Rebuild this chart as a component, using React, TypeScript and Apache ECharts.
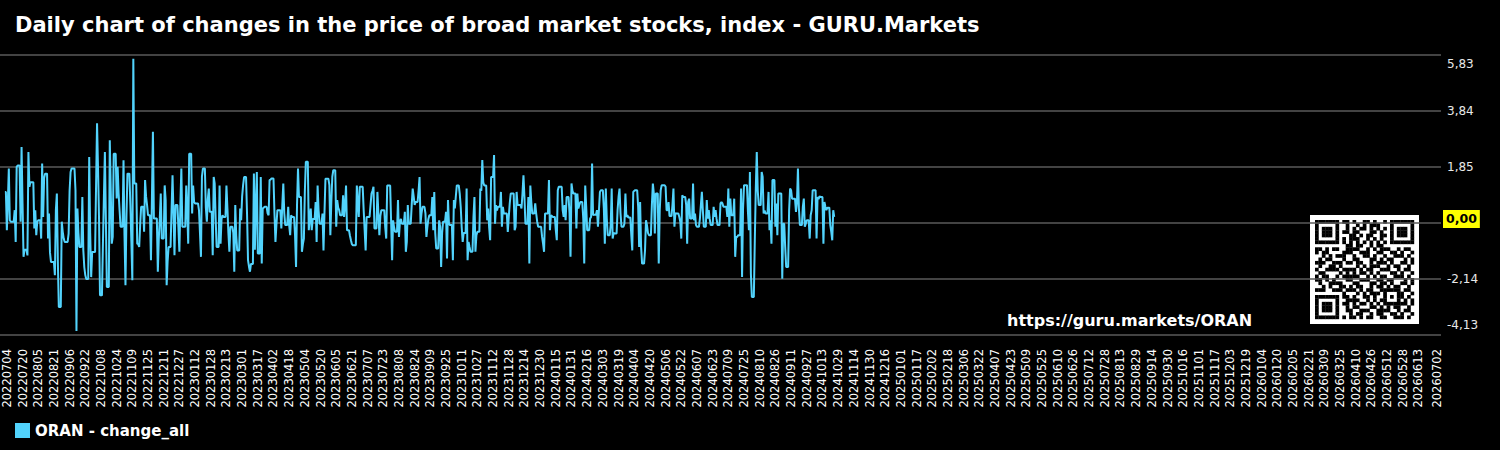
import React, { useEffect, useRef } from "react";
import * as echarts from "echarts";

// ---------- texts ----------
const TITLE = "Daily chart of changes in the price of broad market stocks, index - GURU.Markets";
const SERIES_NAME = "ORAN - change_all";
const URL_TEXT = "https://guru.markets/ORAN";
const ZERO_LABEL = "0,00";

// ---------- axes ----------
const Y_MIN = -4.13;
const Y_MAX = 5.83;
const Y_SPLITS = 5;
const AXIS_START = [2022, 6, 27]; // padding days before first label
const AXIS_END = [2026, 7, 6]; // padding days after last label
const FIRST_LABEL = "20220704";
const LAST_LABEL = "20260702";
const LABEL_STEP_DAYS = 16;

// ---------- data: daily change values on trading days (Mon..Fri), starting Fri 2022-07-01 ----------
const DATA_FIRST_WEEKDAY = [2022, 7, 1];

const changesPart1 = [
  0.96,
  -0.40, 0.60, 1.79, -0.05, -0.10,
  -0.10, 0.31, -0.82, 1.85, 1.90,
  -0.10, 2.56, 0.55, -1.35, -1.10,
  -1.30, 2.38, 1.14, 1.30, 1.30,
  -0.34, 0.31, -0.58, -0.10, -0.05,
  -0.70, 1.97, 0.07, 1.45, 1.61,
  -0.70, 0.19, -1.20, -1.53, -1.53,
  -2.00, 0.31, 0.90, -1.50, -3.13,
  -0.10, -0.46, -0.70, -0.82, -0.82,
  -0.52, 1.00, 1.67, 1.79, 1.79,
  1.02, -3.99, 0.37, -0.50, -1.00,
  0.78, -1.12, -1.72, -2.00, -2.14,
  2.20, -0.50, -2.07, -1.18, -1.18,
  1.20, 3.40, 1.80, 0.07, -2.72,
  -0.88, 0.80, 2.38, 0.00, -2.42,
  2.80, 1.00, -0.88, -0.64, 2.32,
  0.73, 1.85, 0.90, 0.30, -0.28,
  2.09, -0.58, -2.36, 0.07, 1.61,
  0.50, -0.80, -2.18, 5.70, 1.26,
  -0.88, -0.90, -1.00, -0.20, 0.43,
];

const changesPart2 = [
  -0.46, 1.38, 0.80, 0.50, 0.13,
  -1.47, 0.80, 3.10, 0.01, 0.01,
  -1.88, -0.70, 0.00, 0.90, -0.70,
  1.19, 0.67, -2.36, -1.50, -1.00,
  0.31, 1.55, 0.20, -1.29, 0.49,
  -0.30, -1.17, 0.50, 1.79, -0.28,
  -0.28, 1.19, 0.30, -0.88, 2.32,
  0.19, 1.19, 0.60, 0.55, 0.55,
  0.30, -0.50, -1.35, 1.50, 1.79,
  0.40, -0.10, 0.70, 1.08, 0.25,
  -1.29, 1.49, 1.26, 0.00, -1.00,
  1.19, -0.88, 0.00, 0.13, 0.07,
  1.19, 0.37, -0.50, -1.17, -0.28,
  -0.50, -1.88, 0.49, -0.60, -1.12,
  0.37, -0.05, 0.80, 1.20, 1.49,
  0.19, -1.47, -1.70, -1.88, -1.60,
  1.61, -1.10, 0.50, 1.67, -1.23,
  1.49, -1.59, 0.37, 0.40, 0.43,
  0.20, 0.13, 1.38, 1.40, 1.44,
  0.20, -0.82, -0.20, 0.31, 0.31,
];

const changesPart3 = [
  -0.34, 0.50, 1.26, 0.20, -0.22,
  0.43, -0.22, -0.58, 0.13, 0.07,
  -0.60, -1.71, 0.50, 1.79, 0.78,
  -1.17, -0.90, -0.70, 1.00, 2.03,
  -0.40, 0.00, 0.37, -0.40, 0.00,
  0.60, -0.82, 1.19, 0.30, -0.17,
  0.19, -1.12, 0.20, 1.43, 1.43,
  1.20, -0.58, 0.60, 1.50, 1.73,
  -0.28, 0.67, 0.40, 0.31, 0.13,
  0.84, 0.07, 0.50, 1.19, -0.40,
  -0.60, -0.76, -0.90, -0.94, -0.94,
  1.19, 0.60, 0.07, 1.14, 1.14,
  0.31, -0.40, -1.12, 0.07, 0.07,
  0.50, 0.90, 1.00, 1.14, -0.34,
  0.96, 0.20, -0.58, 0.10, 0.31,
  0.31, -0.30, -0.70, 1.19, 1.19,
  -0.10, -1.47, -0.05, -0.30, -0.46,
  0.67, -0.64, -0.10, 0.00, -0.17,
  0.25, -1.17, -0.82, 0.49, -0.17,
  0.50, 1.08, 0.80, 0.50, 0.60,
];

const changesPart4 = [
  1.00, 1.49, -0.17, 0.20, 0.43,
  0.20, -0.64, -0.28, 0.00, 0.13,
  0.78, -0.40, 0.96, -0.50, -1.05,
  -0.05, -0.28, -1.71, -0.50, -0.10,
  0.25, -1.41, 0.67, -0.17, -0.22,
  -1.47, 0.67, 0.37, 0.80, 1.19,
  0.90, 0.43, -0.30, -0.82, -0.50,
  1.08, -1.47, -0.82, -1.00, -1.17,
  0.07, 0.78, -1.17, -0.58, -0.46,
  1.08, 1.00, 2.09, 1.30, 1.19,
  -0.05, 0.37, -0.30, -0.76, 1.49,
  2.27, -0.17, 0.49, 0.30, 0.43,
  0.96, -0.28, 0.43, 0.19, 0.19,
  -0.46, 0.07, 0.55, 0.90, 0.90,
  -0.40, -0.28, 0.96, 0.49, 0.49,
  0.37, 0.90, 1.55, 0.78, -0.17,
  0.78, -1.59, 1.19, 0.60, 0.19,
  0.55, 0.19, -0.10, -0.28, -0.28,
  -0.64, -0.88, -1.17, 0.19, 0.19,
  1.38, -0.40, 0.13, 0.10, 0.07,
];

const changesPart5 = [
  -0.40, -0.76, 1.02, 1.14, 1.14,
  0.31, 0.07, 0.49, -0.05, 0.78,
  0.20, -1.35, 1.26, 1.00, 0.90,
  -0.34, 0.90, 0.37, 0.50, 0.60,
  0.01, -1.59, 1.19, 0.43, -0.40,
  0.01, 0.07, 1.97, 0.13, 0.15,
  0.31, -0.28, 0.31, 0.96, 1.02,
  0.37, -0.88, 1.08, 0.00, -0.58,
  -0.22, 1.08, -0.70, -0.50, -0.52,
  0.31, 0.78, 1.08, 0.20, -0.28,
  -0.17, 0.90, 0.07, 0.13, 0.05,
  -0.58, -1.12, 0.96, 1.00, 1.02,
  0.43, -1.00, 0.60, -1.00, -1.59,
  -1.12, -0.05, -0.22, -0.50, -0.58,
  0.50, 1.26, 0.90, -0.52, 0.90,
  -1.59, 0.30, 1.02, 1.20, 1.20,
  1.14, 0.31, 0.31, 0.60, 0.10,
  0.49, 1.08, -0.28, 0.20, 0.19,
  0.07, -0.10, -0.70, 0.84, 0.78,
  0.50, -0.88, 0.60, 0.72, 0.01,
];

const changesPart6 = [
  1.26, -0.05, 0.19, -0.22, -0.28,
  0.01, 0.50, 0.96, 0.30, -0.28,
  0.67, 0.01, 0.31, 0.00, -0.22,
  0.43, 0.07, 0.31, 0.00, -0.22,
  0.55, 0.60, 0.55, 0.43, 0.43,
  0.07, 1.08, -0.28, 0.72, 0.13,
  0.72, -1.35, -0.64, -0.64, -0.58,
  1.08, -2.07, 0.37, 1.20, 1.20,
  0.25, -0.40, 1.67, -1.95, -2.78,
  -0.76, 1.08, 2.38, 1.00, 0.49,
  1.67, 1.50, 0.19, 0.30, 0.19,
  0.96, -0.40, -0.05, -0.88, 1.38,
  -0.28, 0.55, -0.58, 0.90, 0.90,
  -2.13, -0.17, -0.17, -1.00, -1.71,
  0.31, 1.08, 1.02, 0.72, 0.72,
  0.25, 0.60, 1.79, 0.37, -0.22,
  0.43, 0.72, -0.28, -0.17, -0.05,
  -0.70, 0.13, 0.31, 1.02, 1.02,
  -0.70, 0.78, 0.70, 0.80, 0.78,
  -0.88, 0.60, 0.43, 0.31, 0.40,
  -0.22, -0.46, -0.76, 0.31, 0.07,
];

// ---------- QR code decoration (module bits) ----------
const QR_ROWS_SRC = [
  "AB a", "CD b", "EF c", "GH d", "BC e", "DE f", "FG a", "HA b", "CE c", "AG d",
  "DB e", "FH f", "EA a", "BD b", "GC c", "HF d", "AE e", "CG f", "BH a", "DA b",
  "EC c", "FD d", "GB e", "HE f", "AF a", "CH b", "EG c", "BA d", "DC e",
];
const QR_BLOCKS: Record<string, string> = {
  A: "1011001011", B: "0100110100", C: "1101011001", D: "0010101110",
  E: "1110010101", F: "0101101010", G: "1001110011", H: "0110001101",
  a: "101001101", b: "010110010", c: "110010110", d: "001101001",
  e: "100111010", f: "011000101",
};

function pad2(n: number) {
  return n < 10 ? "0" + n : "" + n;
}
function fmtDate(d: Date) {
  return `${d.getUTCFullYear()}${pad2(d.getUTCMonth() + 1)}${pad2(d.getUTCDate())}`;
}
function utc(p: number[]) {
  return new Date(Date.UTC(p[0], p[1] - 1, p[2]));
}

function buildCategories(): string[] {
  const out: string[] = [];
  const end = utc(AXIS_END).getTime();
  for (let t = utc(AXIS_START).getTime(); t <= end; t += 86400000) out.push(fmtDate(new Date(t)));
  return out;
}

function buildDailyMap(): Map<string, number> {
  const values = [
    ...changesPart1, ...changesPart2, ...changesPart3,
    ...changesPart4, ...changesPart5, ...changesPart6,
  ];
  const map = new Map<string, number>();
  let idx = 1;
  let last = values[0];
  // calendar points from the day after the first weekday; weekends keep the last trading value
  for (let t = utc(DATA_FIRST_WEEKDAY).getTime() + 86400000; idx < values.length; t += 86400000) {
    const d = new Date(t);
    const wd = d.getUTCDay();
    if (wd !== 0 && wd !== 6) {
      last = values[idx++];
    }
    map.set(fmtDate(d), last);
  }
  return map;
}

function buildQr(): any[] {
  const n = 29;
  const m: boolean[][] = QR_ROWS_SRC.map((src) => {
    const [p, q] = src.split(" ");
    const s = QR_BLOCKS[p[0]] + QR_BLOCKS[p[1]] + QR_BLOCKS[q];
    return s.split("").map((ch) => ch === "1");
  });
  const finder = (r0: number, c0: number) => {
    for (let r = -1; r <= 7; r++)
      for (let c = -1; c <= 7; c++) {
        const rr = r0 + r, cc = c0 + c;
        if (rr < 0 || cc < 0 || rr >= n || cc >= n) continue;
        const inside = r >= 0 && r <= 6 && c >= 0 && c <= 6;
        let on = false;
        if (inside) {
          const ring = Math.max(Math.abs(r - 3), Math.abs(c - 3));
          on = ring === 3 || ring <= 1;
        }
        m[rr][cc] = on;
      }
  };
  finder(0, 0);
  finder(0, n - 7);
  finder(n - 7, 0);
  for (let i = 8; i < n - 8; i++) {
    m[6][i] = i % 2 === 0;
    m[i][6] = i % 2 === 0;
  }
  for (let r = -2; r <= 2; r++)
    for (let c = -2; c <= 2; c++) {
      const ring = Math.max(Math.abs(r), Math.abs(c));
      m[22 + r][22 + c] = ring !== 1;
    }
  const size = 3.41;
  const off = 5;
  const children: any[] = [
    { type: "rect", shape: { x: 0, y: 0, width: 109, height: 109 }, style: { fill: "#ffffff" } },
  ];
  for (let r = 0; r < n; r++)
    for (let c = 0; c < n; c++)
      if (m[r][c])
        children.push({
          type: "rect",
          shape: { x: off + c * size, y: off + r * size, width: size + 0.3, height: size + 0.3 },
          style: { fill: "#000000" },
        });
  return children;
}

export default function App() {
  const ref = useRef<HTMLDivElement>(null);

  useEffect(() => {
    document.body.style.margin = "0";
    document.body.style.background = "#000";
    if (!ref.current) return;
    const chart = echarts.init(ref.current, undefined, { renderer: "svg" });

    const categories = buildCategories();
    const daily = buildDailyMap();
    const seriesData = categories.map((c) => (daily.has(c) ? daily.get(c)! : null));
    const firstIdx = categories.indexOf(FIRST_LABEL);
    const lastR = categories.indexOf(LAST_LABEL) - firstIdx;
    const font = "DejaVu Sans";
    const step = (Y_MAX - Y_MIN) / Y_SPLITS;

    chart.setOption({
      animation: false,
      backgroundColor: "#000000",
      textStyle: { fontFamily: font },
      title: {
        text: TITLE,
        left: 10,
        top: 9,
        textStyle: { color: "#ffffff", fontSize: 21, fontWeight: "bold", fontFamily: font },
      },
      legend: {
        left: 10,
        top: 418,
        icon: "rect",
        itemWidth: 15,
        itemHeight: 15,
        itemGap: 5,
        textStyle: { color: "#ffffff", fontSize: 15, fontWeight: "bold", fontFamily: font },
        data: [SERIES_NAME],
      },
      grid: { left: 0, right: 59, top: 55, bottom: 115, containLabel: false },
      xAxis: {
        type: "category",
        data: categories,
        boundaryGap: false,
        axisLine: { show: false },
        axisTick: { show: false },
        splitLine: { show: false },
        axisLabel: {
          rotate: 90,
          margin: 14,
          color: "#ffffff",
          fontSize: 11.5,
          fontFamily: font,
          interval: (index: number) => {
            const r = index - firstIdx;
            return (r >= 0 && r % LABEL_STEP_DAYS === 0 && r <= lastR - LABEL_STEP_DAYS) || r === lastR;
          },
        },
      },
      yAxis: {
        type: "value",
        position: "right",
        min: Y_MIN,
        max: Y_MAX,
        interval: step,
        axisLine: { show: false },
        axisTick: { show: false },
        splitLine: { show: true, lineStyle: { color: "#5a5a5a", width: 1.5 } },
        axisLabel: {
          margin: 6,
          color: "#e8e8e8",
          fontSize: 12,
          fontFamily: font,
          verticalAlignMaxLabel: "top",
          verticalAlignMinLabel: "bottom",
          formatter: (v: number) => {
            if (Math.abs(v) < 0.5) return "";
            const s = v.toFixed(2).replace(".", ",");
            if (Math.abs(v - Y_MAX) < 1e-6) return `{top|${s}}`;
            if (Math.abs(v - Y_MIN) < 1e-6) return `{bot|${s}}`;
            return s;
          },
          rich: {
            top: { lineHeight: 18, fontSize: 12, color: "#e8e8e8", fontFamily: font },
            bot: { lineHeight: 20, fontSize: 12, color: "#e8e8e8", fontFamily: font },
          },
        },
      },
      graphic: [
        {
          type: "text",
          left: 1007,
          top: 312,
          style: { text: URL_TEXT, fill: "#ffffff", font: `bold 16px "${font}"` },
        },
        { type: "group", left: 1310, top: 215, children: buildQr() },
      ],
      series: [
        {
          name: SERIES_NAME,
          type: "line",
          data: seriesData,
          showSymbol: false,
          symbol: "none",
          color: "#52d3fc",
          lineStyle: { color: "#52d3fc", width: 2 },
          markLine: {
            silent: true,
            symbol: "none",
            lineStyle: { width: 0, color: "rgba(0,0,0,0)", type: "solid" },
            label: {
              show: true,
              position: "end",
              distance: 2,
              formatter: ZERO_LABEL,
              backgroundColor: "#ffff00",
              color: "#000000",
              opacity: 1,
              fontWeight: "bold",
              fontSize: 12.5,
              fontFamily: font,
              padding: [3, 3, 2, 3],
            },
            data: [{ yAxis: 0 }],
          },
        },
      ],
    });

    return () => chart.dispose();
  }, []);

  return <div ref={ref} style={{ width: 1500, height: 450 }} />;
}
